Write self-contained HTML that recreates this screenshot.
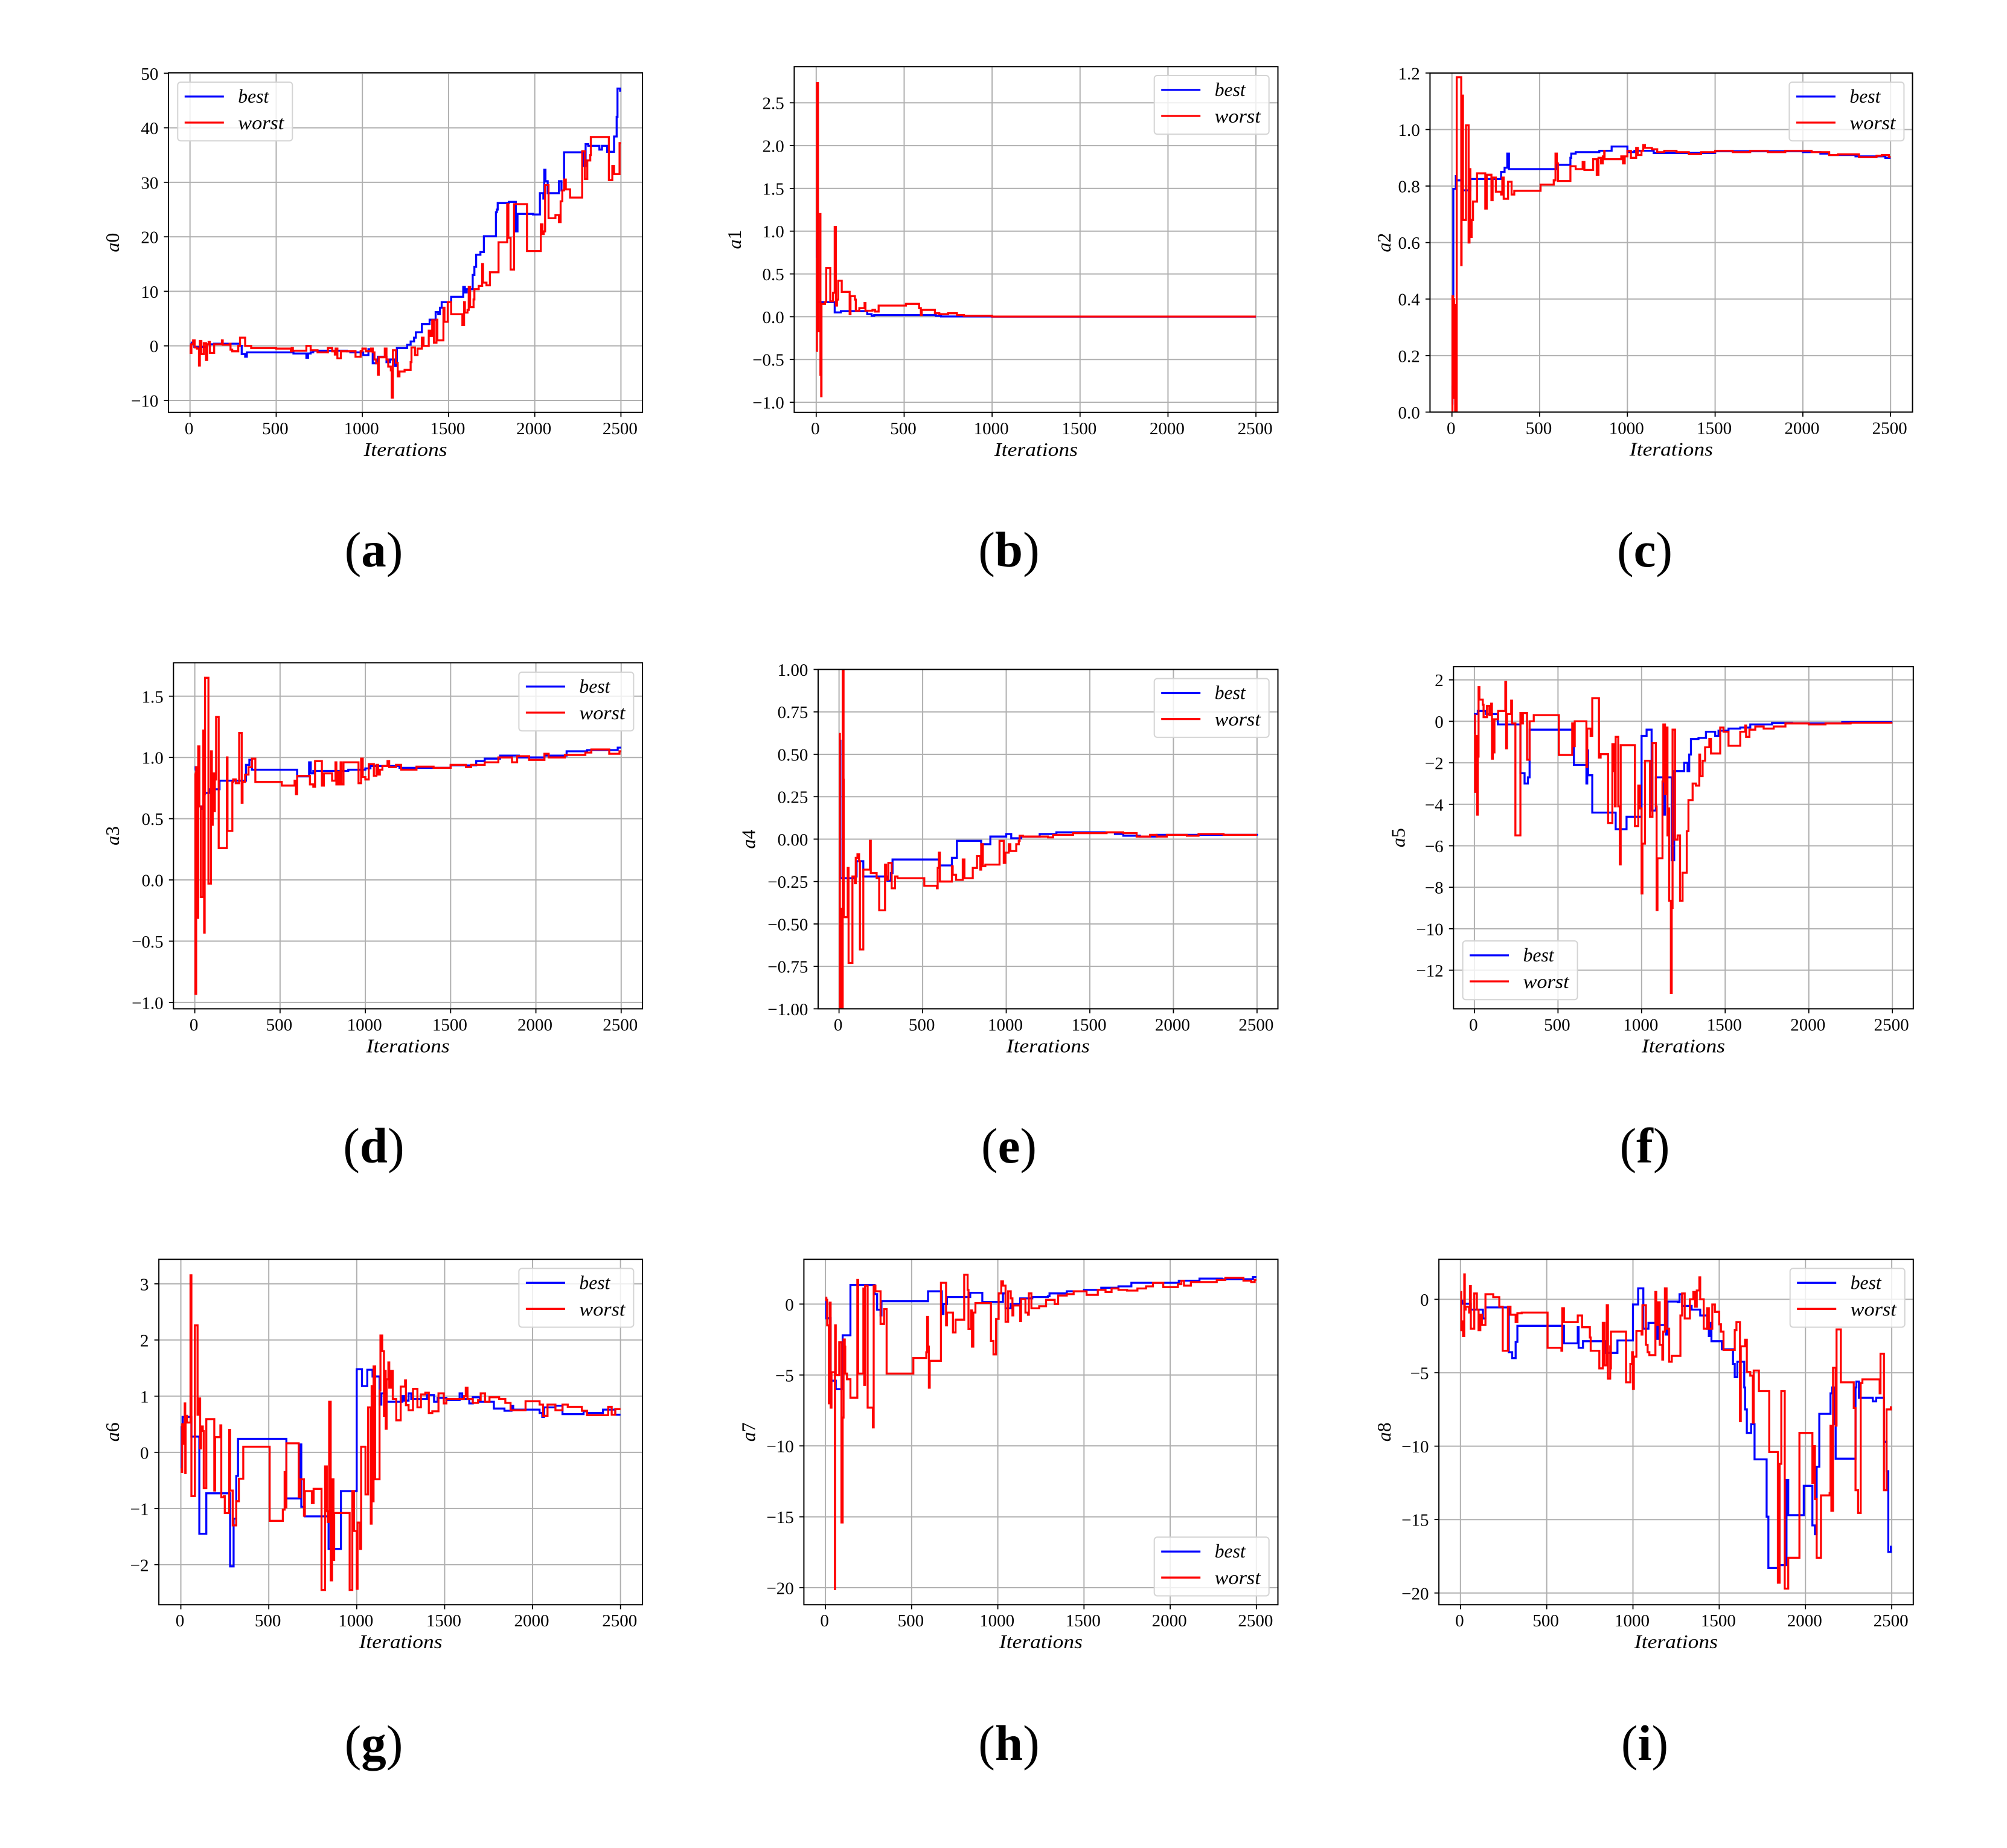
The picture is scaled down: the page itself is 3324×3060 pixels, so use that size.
<!DOCTYPE html>
<html lang="en">
<head>
<meta charset="utf-8">
<title>Parameter convergence: best and worst a0 to a8</title>
<style>
html,body{margin:0;padding:0;background:#fff;}
svg{display:block;}
text{font-family:"Liberation Serif",serif;fill:#000;}
</style>
</head>
<body>
<svg id="figure" xmlns="http://www.w3.org/2000/svg" width="3324" height="3060" viewBox="0 0 3324 3060"></svg>
<script>
const xTicks = [0,500,1000,1500,2000,2500];

const a0Ticks = [-10,0,10,20,30,40,50];
const a0BestIter = [0,10,25,100,140,290,300,320,330,600,675,685,700,715,910,930,1005,1035,1060,1090,1140,1160,1190,1200,1260,1280,1300,1310,1345,1390,1425,1440,1450,1460,1515,1585,1595,1605,1640,1650,1660,1685,1705,1775,1780,1785,1850,1890,1900,1990,2030,2050,2055,2062,2075,2140,2155,2170,2285,2295,2310,2375,2390,2420,2460,2475,2480,2495];
const a0BestVal = [0.3,0.6,-0.2,0.3,0.4,0,-1.5,-2,-1.2,-1.4,-2.2,-1.4,-1.2,-0.9,-1,-1.2,-1.7,-0.6,-3.2,-2,-3,-2.5,-3.7,-0.4,0.2,0.8,1.5,2.5,4,4.8,6.2,5.8,7,8,9,10.8,9.8,10.4,13,14.5,16.7,17.2,20.1,24.5,25,26.2,26.4,21,24.2,24.1,28,27,32.3,30.2,28,30.2,28.5,35.5,33,37,36.7,36,36.7,35.6,38.4,42,47.2,46.8];
const a0WorstIter = [0,4,8,18,27,40,52,57,66,80,93,100,108,115,140,185,190,230,235,245,280,290,320,355,500,585,590,597,675,700,740,800,825,840,845,855,875,960,990,1000,1020,1050,1060,1070,1080,1090,1095,1130,1140,1150,1165,1170,1177,1195,1205,1215,1245,1280,1285,1305,1320,1345,1355,1385,1395,1405,1415,1430,1435,1470,1476,1495,1515,1580,1590,1595,1610,1617,1625,1645,1650,1675,1695,1700,1720,1740,1790,1840,1847,1860,1880,1955,2035,2045,2052,2060,2080,2120,2140,2150,2160,2170,2180,2205,2275,2290,2305,2322,2325,2430,2450,2460,2492];
const a0WorstVal = [0.2,-1.3,0.3,1,-0.3,-0.5,-3.6,0.9,-1.5,0.5,-2.6,0.3,0.7,-1.3,0.3,1,0.2,0.4,-0.7,-1,0,1.5,0,-0.4,-0.5,-1,-0.4,-0.9,0,-0.8,-1.2,-0.4,-1,-1.6,-0.5,-2.3,-1,-2,-1,-0.5,-1,-0.5,-1.2,-2.5,-3.2,-5.3,-2.1,-0.5,-2.5,-3.8,-4.5,-9.5,-0.8,-3.1,-5.6,-4.7,-4.4,-3,-0.3,-1.7,-0.5,1.5,0,2.8,1.8,4.7,0.6,4.8,1,7,4.4,8,5.8,3.8,8,6.1,6.6,10.8,7.1,8.5,10.4,11,15,11.6,11.1,13.5,19,26,19.8,14,26,17.4,22.3,20.5,21,29.5,23.4,24,22.7,26.5,28.5,30.5,28.7,27.2,35.7,30.6,34,35,38.3,30.4,33,31.5,37.2];

const a1Ticks = [-1,-0.5,0,0.5,1,1.5,2,2.5];
const a1BestIter = [0,3,8,100,105,140,290,315,330,600,680,710,1000];
const a1BestVal = [0.9,0.7,0.17,0.17,0.05,0.065,0.03,0.01,0.02,0.02,0.01,0.003,0.001];
const a1WorstIter = [0,4,10,22,24,28,30,50,57,80,95,105,112,118,125,145,190,195,220,225,245,275,280,320,335,355,510,585,595,600,675,700,750,800,840,1000];
const a1WorstVal = [-0.4,2.73,-0.17,1.2,-0.68,-0.93,0.15,0.17,0.57,0.18,0.28,1.05,0.13,0.2,0.42,0.29,0.03,0.24,0.2,0.07,0.1,0.16,0.07,0.08,0.06,0.13,0.15,0.1,0.02,0.08,0.04,0.03,0.04,0.02,0.01,0.002];

const a2Ticks = [0,0.2,0.4,0.6,0.8,1,1.2];
const a2BestIter = [0,3,5,8,22,25,55,105,280,300,315,325,600,675,680,705,840,910,1000,1040,1150,1300,1500,1800,2000,2100,2150,2300,2470];
const a2BestVal = [0.03,0.09,0.41,0.79,0.835,0.82,0.785,0.825,0.85,0.865,0.915,0.86,0.875,0.9,0.915,0.92,0.925,0.94,0.92,0.925,0.917,0.917,0.923,0.923,0.92,0.915,0.91,0.905,0.9];
const a2WorstIter = [0,3,6,9,12,15,18,21,24,27,53,55,58,63,80,95,100,105,112,120,143,190,198,225,232,250,280,287,295,320,340,355,505,580,590,598,605,675,705,745,755,805,825,835,850,860,868,870,965,975,985,1000,1020,1050,1060,1080,1090,1100,1140,1170,1210,1280,1350,1420,1500,1600,1700,1800,1900,2050,2150,2200,2320,2420,2450,2490];
const a2WorstVal = [0,0.41,0.05,0.4,0.1,0.38,0,0.35,0,1.185,0.52,1.12,1.12,0.68,1.015,0.6,0.86,0.62,0.68,0.745,0.845,0.72,0.84,0.75,0.83,0.78,0.77,0.83,0.755,0.815,0.77,0.783,0.805,0.82,0.915,0.88,0.818,0.87,0.86,0.885,0.857,0.895,0.84,0.9,0.88,0.905,0.925,0.895,0.905,0.88,0.905,0.925,0.9,0.935,0.91,0.925,0.945,0.935,0.93,0.92,0.925,0.92,0.913,0.92,0.925,0.92,0.925,0.92,0.925,0.92,0.91,0.912,0.902,0.907,0.91,0.903];

const a3Ticks = [-1,-0.5,0,0.5,1,1.5];
const a3BestIter = [0,5,15,45,55,85,145,300,320,335,600,670,680,695,900,1000,1030,1200,1500,1650,1700,1790,1900,2050,2060,2180,2300,2480];
const a3BestVal = [0.9,0.92,0.6,0.58,0.71,0.74,0.81,0.94,0.98,0.9,0.845,0.96,0.87,0.89,0.9,0.91,0.93,0.915,0.935,0.97,0.99,1.015,1,1.03,1.015,1.05,1.06,1.08];
const a3WorstIter = [0,4,8,18,20,27,35,50,55,58,60,80,95,100,105,115,118,125,140,188,192,220,225,240,260,275,280,295,315,335,355,510,585,593,600,675,695,705,745,757,805,825,830,840,850,855,860,872,960,975,985,1000,1020,1050,1065,1075,1085,1100,1130,1140,1180,1210,1300,1400,1500,1590,1620,1700,1780,1860,1890,1960,2050,2075,2170,2290,2325,2430,2490];
const a3WorstVal = [0.87,-0.93,0.92,-0.31,1.09,0.6,-0.14,1.22,-0.43,0.7,1.65,-0.03,1.05,0.45,0.87,0.56,0.82,1.33,0.26,1,0.4,0.8,0.82,0.79,1.2,0.63,0.8,0.86,0.92,0.99,0.8,0.77,0.81,0.7,0.85,0.78,0.76,0.97,0.77,0.87,0.81,0.96,0.78,0.88,0.78,0.96,0.78,0.96,0.79,0.99,0.84,0.82,0.945,0.85,0.94,0.86,0.9,0.93,0.97,0.92,0.94,0.9,0.925,0.915,0.94,0.92,0.94,0.96,1,0.96,1.01,0.98,1.03,1,1.02,1.04,1.065,1.03,1.05];

const a4Ticks = [-1,-0.75,-0.5,-0.25,0,0.25,0.5,0.75,1];
const a4BestIter = [0,8,100,105,145,290,310,320,600,675,705,850,905,1000,1030,1090,1200,1300,1500,1650,1700,1800,1900,2000,2500];
const a4BestVal = [0.58,-0.23,-0.22,-0.13,-0.22,-0.245,-0.2,-0.12,-0.155,-0.11,-0.01,-0.03,0.015,0.03,0.005,0.015,0.03,0.04,0.04,0.03,0.02,0.015,0.025,0.025,0.02];
const a4WorstIter = [0,5,12,16,22,27,28,52,57,80,95,100,110,120,125,145,185,190,225,240,275,282,295,315,335,350,510,585,590,597,603,675,680,700,740,750,800,825,845,850,860,875,960,985,995,1015,1025,1060,1075,1080,1100,1250,1280,1400,1500,1600,1700,1780,1860,1900,1960,2080,2150,2300,2500];
const a4WorstVal = [0.62,-1,-0.41,-1,1,0.35,-0.46,-0.17,-0.73,-0.22,-0.26,-0.11,-0.09,-0.13,-0.65,-0.18,-0.01,-0.2,-0.23,-0.42,-0.15,-0.24,-0.14,-0.29,-0.22,-0.23,-0.275,-0.29,-0.17,-0.08,-0.25,-0.16,-0.21,-0.24,-0.12,-0.23,-0.17,-0.1,-0.18,-0.03,-0.16,-0.15,-0.01,-0.14,-0.08,-0.03,-0.07,-0.03,-0.01,0.02,0.015,0.01,0.025,0.035,0.035,0.04,0.035,0.015,0.025,0.015,0.025,0.02,0.03,0.025,0.025];

const a5Ticks = [-12,-10,-8,-6,-4,-2,0,2];
const a5BestIter = [0,3,20,70,140,275,300,320,330,595,670,675,680,705,845,910,1000,1030,1060,1085,1130,1140,1180,1195,1255,1275,1285,1295,1340,1385,1440,1460,1520,1590,1650,1780,1900,2000,2200];
const a5BestVal = [-0.6,0.35,0.5,0.35,-0.15,-2.5,-3,-2.7,-0.4,-2.1,-3,-1.4,-2.6,-4.4,-5.2,-4.6,-0.7,-0.4,-4.3,-2.7,-4.5,-2.7,-6.7,-2.4,-2,-2.4,-1.6,-0.85,-0.8,-0.5,-0.7,-0.45,-0.35,-0.3,-0.15,-0.08,-0.1,-0.1,-0.03];
const a5WorstIter = [0,4,8,16,20,25,30,50,55,75,90,100,105,110,113,120,142,185,190,195,220,225,245,275,283,290,315,330,355,505,585,590,600,670,675,695,705,745,755,800,825,835,840,845,860,870,875,960,980,990,1000,1005,1020,1050,1065,1085,1090,1095,1125,1130,1140,1150,1155,1160,1165,1175,1180,1185,1200,1215,1230,1245,1270,1280,1305,1325,1345,1350,1365,1380,1405,1415,1470,1490,1520,1590,1620,1625,1645,1680,1730,1790,1860,2000,2100,2250];
const a5WorstVal = [0.3,-3.4,-0.7,-4.5,-1.7,1.65,1.05,0.8,0.2,0.75,0.3,0.85,-1.8,0.1,-1.5,0.1,0.5,1.9,-1.3,0.35,1,-0.1,-5.5,0.4,-0.1,0.4,-1.85,0,0.3,-1.62,-0.1,-1.2,0,-2.2,-0.35,-0.7,1.12,-1.75,-1.58,-4.9,-1.1,-2.4,-4.1,-0.75,-4.1,-6.9,-1.15,-5.05,-3.1,-4.2,-8.3,-5.9,-1.9,-4.6,-1.05,-4.1,-9.1,-6.6,-2.9,-0.15,-3.5,-0.3,-5.5,-4.2,-8.65,-13.1,-9,-0.4,-5.7,-5.5,-8.65,-7.3,-5.3,-3.8,-3,-3.1,-1.6,-2.65,-1.9,-1.25,-0.85,-1.55,-0.3,-0.5,-1.18,-0.5,-0.2,-0.75,-0.4,-0.25,-0.35,-0.25,-0.1,-0.15,-0.1,-0.07];

const a6Ticks = [-2,-1,0,1,2,3];
const a6BestIter = [0,5,10,60,105,145,280,300,315,325,600,680,685,705,840,910,1000,1030,1060,1090,1130,1140,1170,1260,1270,1295,1310,1400,1440,1460,1510,1585,1600,1640,1660,1700,1780,1840,1880,1890,2040,2055,2065,2130,2170,2290,2310,2400,2470];
const a6BestVal = [-0.3,0.45,0.63,0.28,-1.45,-0.73,-2.03,-1.18,-0.42,0.24,-0.82,0.14,-0.97,-1.14,-1.72,-0.69,1.48,1.18,1.47,1.35,0.85,1.05,0.9,1,0.92,1.05,0.95,1.02,0.9,0.97,0.93,1.05,0.95,0.87,0.98,0.9,0.78,0.74,0.83,0.76,0.7,0.63,0.8,0.83,0.68,0.73,0.7,0.76,0.67];
const a6WorstIter = [0,5,8,13,22,25,27,35,55,60,80,95,103,110,115,125,130,145,190,195,225,230,245,250,275,280,295,315,330,355,505,580,590,595,600,670,680,700,705,745,755,800,820,830,835,843,852,860,868,872,960,975,985,1000,1005,1020,1025,1050,1065,1080,1085,1092,1096,1105,1130,1135,1145,1155,1160,1165,1170,1180,1185,1195,1205,1225,1250,1275,1280,1295,1320,1345,1365,1390,1410,1430,1465,1495,1510,1610,1620,1630,1660,1690,1705,1730,1755,1810,1845,1875,1960,2040,2060,2085,2130,2170,2200,2280,2310,2430,2450,2470];
const a6WorstVal = [-0.3,-0.35,0.5,0.15,0.87,-0.37,0.65,0.53,3.15,-0.78,2.26,0.67,0.96,0.07,0.46,0.38,-0.64,0.59,-0.68,0.27,0.48,-0.8,-0.78,-1.08,0.4,-0.68,-1.3,-0.87,-0.47,0.1,-1.22,-1.02,-0.35,-0.98,0.16,-0.8,-0.48,-1.13,-0.69,-0.9,-0.65,-2.45,-0.25,-1.05,-1.24,0.9,-2.28,-0.48,-1.92,-1.08,-2.45,-0.69,-1.4,-2.43,-1.25,-1.72,0.1,-0.75,0.8,-1.27,1.18,-0.87,1.53,-0.48,1.1,2.08,1.8,0.65,1.45,0.42,1.3,1.6,1.15,1.45,0.95,0.57,1.17,1.28,0.84,0.75,1.13,0.8,1.03,1.06,0.7,0.73,1.05,0.87,0.95,1,1.15,0.95,0.88,0.93,1.05,0.9,0.98,0.95,0.88,0.75,0.91,0.85,0.65,0.85,0.75,0.85,0.81,0.74,0.66,0.81,0.67,0.77];

const a7Ticks = [-20,-15,-10,-5,0];
const a7BestIter = [0,5,30,60,100,145,285,300,320,325,595,675,685,705,840,910,1030,1045,1075,1130,1200,1290,1300,1400,1500,1600,1700,1775,1900,2050,2170,2300,2480];
const a7BestVal = [0.4,-1,-5.4,-6,-2.2,1.35,0.7,-0.4,-0.8,0.2,0.9,-0.7,0,0.5,0.8,0.15,0.75,-0.3,0,0.4,0.5,0.55,0.75,0.9,1,1.15,1.25,1.5,1.5,1.65,1.8,1.75,1.9];
const a7WorstIter = [0,5,10,20,25,30,35,55,56,60,80,93,100,105,112,115,125,145,185,190,220,225,230,245,275,280,290,320,340,355,510,585,590,595,600,605,670,700,705,740,755,805,825,830,845,850,858,870,960,975,990,1005,1020,1030,1045,1060,1075,1085,1090,1130,1135,1160,1175,1180,1195,1240,1280,1330,1350,1400,1440,1515,1580,1625,1660,1700,1750,1810,1860,1900,1960,2045,2065,2080,2120,2200,2270,2320,2425,2470,2490];
const a7WorstVal = [0.45,0.3,-1.5,-7,0.1,-7.3,-4.8,-20.1,-1.5,-5,-2.7,-15.4,-8,-2.5,-3,-4.9,-5.3,-6.6,1.7,-4.9,1.1,-5.7,1.3,-7.3,-8.7,1.3,0.9,-1.4,-0.35,-4.9,-3.8,-3.4,-0.9,-3,-5.9,-4,1.5,-1.5,-0.6,-2,-1.1,2.07,1,-1.75,-0.45,-3,-0.6,0.08,-2.6,-3.55,-1.05,0.75,1.6,1.3,-1.25,0.9,0.4,-0.8,-0.1,-1.2,0.35,-0.6,-0.75,0.75,-0.3,-0.15,0.3,0,0.6,0.7,0.9,0.65,1,0.85,1.1,1,0.95,1.1,1.25,1.5,1.2,1.4,1.65,1.3,1.55,1.55,1.7,1.85,1.65,1.55,1.7];

const a8Ticks = [-20,-15,-10,-5,0];
const a8BestIter = [0,10,60,130,145,280,300,320,330,600,680,685,710,840,910,1000,1030,1060,1090,1135,1145,1190,1200,1260,1270,1285,1340,1390,1430,1440,1445,1455,1515,1580,1590,1605,1645,1650,1660,1685,1705,1775,1785,1850,1890,1900,1990,2040,2055,2065,2080,2145,2155,2165,2175,2290,2295,2310,2390,2410,2455,2470,2480,2495];
const a8BestVal = [-0.1,-0.3,-0.7,-1.3,-0.55,-3.6,-4,-2.9,-1.8,-3,-1.9,-3.3,-2.85,-3.65,-2.8,-0.35,0.75,-2,-1.6,-2.7,-1.75,-2.4,-0.15,-0.2,0.35,-0.45,-0.7,-1.1,-2,-2.5,-1.6,-2.85,-3.4,-4.4,-5.3,-4.25,-6,-7.5,-9.1,-8.5,-10.9,-14.8,-18.3,-18.1,-12.3,-14.7,-12.7,-15.4,-16,-11.4,-7.8,-6.4,-6,-8.5,-10.85,-6,-5.6,-6.7,-6.95,-6.7,-9.7,-11.7,-17.2,-16.85];
const a8WorstIter = [0,5,10,15,22,25,30,50,55,60,80,95,105,115,125,145,190,225,245,275,290,320,330,355,505,585,590,600,680,705,750,755,805,825,835,848,855,868,870,872,960,985,995,1000,1005,1020,1050,1055,1075,1085,1095,1130,1135,1145,1155,1170,1175,1185,1195,1210,1225,1275,1285,1300,1330,1350,1360,1370,1385,1390,1410,1430,1440,1460,1475,1500,1510,1525,1590,1600,1620,1625,1650,1660,1680,1695,1700,1730,1790,1840,1850,1860,1880,1900,1965,2040,2050,2055,2065,2090,2140,2145,2150,2160,2175,2180,2205,2280,2290,2305,2320,2330,2430,2435,2455,2470,2495];
const a8WorstVal = [0.5,-2.1,-1.5,-2.5,1.7,-0.7,-0.5,-0.9,0.9,-2,0.4,-0.7,-2.1,-1.05,-1.75,0.35,0.15,-0.5,-3.5,-0.5,-1.05,-1.55,-0.95,-0.9,-3.3,-3.5,-0.6,-1.55,-1.1,-1.9,-2.6,-3.5,-4.7,-1.6,-4.5,-0.4,-5.4,-3.2,-4.7,-2.2,-5.65,-4.4,-3.6,-6.1,-3.9,-2.15,-2.4,-0.4,-3.1,-3.6,-3.8,0.5,-1.75,-0.2,-3.1,-4.1,-2.2,0.75,-2,-4.25,-3.85,-1.1,0.4,-1.3,0,0.5,-0.5,0.6,1.5,0,-2,-0.6,-2,-0.35,-0.85,-1.7,-2.2,-3.45,-2.1,-1.55,-8.3,-3.2,-2.75,-4.95,-5.2,-8.4,-4.85,-6.25,-10.4,-19.3,-11.2,-6.25,-19.7,-17.6,-9.1,-12.5,-10,-13.6,-17.6,-13.35,-13.2,-8.6,-14.4,-4.65,-8.6,-2.05,-5.65,-7.4,-13,-14.55,-5.7,-5.45,-6.4,-3.7,-13,-7.5,-7.35];

const panels = [
 {key:'a', digit:'0', cap:'a', bi:a0BestIter, bv:a0BestVal, wi:a0WorstIter, wv:a0WorstVal, ticks:a0Ticks, dec:0, box:[279,1064.1,120.4,682.8], yLim:[-12.2,50.1], labX:187.8, leg:[294.3,136], capX:619, capY:938},
 {key:'b', digit:'1', cap:'b', bi:a1BestIter, bv:a1BestVal, wi:a1WorstIter, wv:a1WorstVal, ticks:a1Ticks, dec:1, box:[1315.4,2116.5,110.3,682.8], yLim:[-1.118,2.923], labX:1217.9, leg:[1911.7,125], capX:1671, capY:938},
 {key:'c', digit:'2', cap:'c', bi:a2BestIter, bv:a2BestVal, wi:a2WorstIter, wv:a2WorstVal, ticks:a2Ticks, dec:1, box:[2368.4,3167.5,120.9,682.4], yLim:[0,1.2], labX:2293.8, leg:[2963.4,136], capX:2724, capY:938},
 {key:'d', digit:'3', cap:'d', bi:a3BestIter, bv:a3BestVal, wi:a3WorstIter, wv:a3WorstVal, ticks:a3Ticks, dec:1, box:[287.3,1064.1,1097.4,1670.4], yLim:[-1.052,1.773], labX:187.8, leg:[859.4,1113], capX:619, capY:1925},
 {key:'e', digit:'4', cap:'e', bi:a4BestIter, bv:a4BestVal, wi:a4WorstIter, wv:a4WorstVal, ticks:a4Ticks, dec:2, box:[1355,2116.5,1108.5,1670.4], yLim:[-1,1], labX:1241.5, leg:[1911.7,1123.6], capX:1671, capY:1925},
 {key:'f', digit:'5', cap:'f', bi:a5BestIter, bv:a5BestVal, wi:a5WorstIter, wv:a5WorstVal, ticks:a5Ticks, dec:0, box:[2407.3,3168.8,1103.9,1670.4], yLim:[-13.86,2.636], labX:2317.4, leg:[2422.6,1558], capX:2724, capY:1925},
 {key:'g', digit:'6', cap:'g', bi:a6BestIter, bv:a6BestVal, wi:a6WorstIter, wv:a6WorstVal, ticks:a6Ticks, dec:0, box:[263.1,1064.1,2085.2,2657.2], yLim:[-2.713,3.436], labX:187.8, leg:[859.4,2100.3], capX:619, capY:2914},
 {key:'h', digit:'7', cap:'h', bi:a7BestIter, bv:a7BestVal, wi:a7WorstIter, wv:a7WorstVal, ticks:a7Ticks, dec:0, box:[1331.4,2116.5,2085.2,2657.2], yLim:[-21.2,3.157], labX:1241.5, leg:[1911.7,2545.2], capX:1671, capY:2914},
 {key:'i', digit:'8', cap:'i', bi:a8BestIter, bv:a8BestVal, wi:a8WorstIter, wv:a8WorstVal, ticks:a8Ticks, dec:0, box:[2383.1,3168.8,2085.2,2657.2], yLim:[-20.8,2.727], labX:2293.8, leg:[2964.7,2100.3], capX:2724, capY:2914}
];

const NS = 'http://www.w3.org/2000/svg';
const root = document.getElementById('figure');
const X_LIM = [-125,2625];
const GRID = '#b0b0b0';

function mk(tag, attrs, parent, txt){
  const n = document.createElementNS(NS, tag);
  for (const k in attrs) n.setAttribute(k, attrs[k]);
  if (txt !== undefined) n.textContent = txt;
  parent.appendChild(n);
  return n;
}
function fmt(v, dec){
  const s = Math.abs(v).toFixed(dec);
  return (v < 0 ? '\u2212' : '') + s;
}
function stepPath(iters, vals, sx, sy){
  const n = Math.min(iters.length, vals.length);
  let d = 'M' + sx(iters[0]).toFixed(1) + ' ' + sy(vals[0]).toFixed(1);
  for (let i = 1; i < n; i++){
    d += 'H' + sx(iters[i]).toFixed(1) + 'V' + sy(vals[i]).toFixed(1);
  }
  d += 'H' + sx(2500).toFixed(1);
  return d;
}

panels.forEach(function(p){
  const L = p.box[0], R = p.box[1], T = p.box[2], B = p.box[3];
  const sx = function(v){ return L + (v - X_LIM[0]) * (R - L) / (X_LIM[1] - X_LIM[0]); };
  const sy = function(v){ return B - (v - p.yLim[0]) * (B - T) / (p.yLim[1] - p.yLim[0]); };

  const g = mk('g', {}, root);
  
  

  const defs = mk('defs', {}, g);
  const clip = mk('clipPath', {id:'clip-' + p.key}, defs);
  mk('rect', {x:L, y:T, width:R - L, height:B - T}, clip);

  xTicks.forEach(function(t){
    const x = sx(t);
    const gl = mk('line', {x1:x, x2:x, y1:T, y2:B, stroke:GRID, 'stroke-width':2}, g);
    
    
    const tk = mk('line', {x1:x, x2:x, y1:B, y2:B + 7.5, stroke:'#000', 'stroke-width':1.8}, g);
    
    
    const lb = mk('text', {x:x - 1.5, y:B + 36, 'text-anchor':'middle', 'font-size':29}, g, String(t));
    
    
  });

  p.ticks.forEach(function(t){
    const y = sy(t);
    const gl = mk('line', {x1:L, x2:R, y1:y, y2:y, stroke:GRID, 'stroke-width':2}, g);
    
    
    const tk = mk('line', {x1:L - 7.5, x2:L, y1:y, y2:y, stroke:'#000', 'stroke-width':1.8}, g);
    
    
    const lb = mk('text', {x:L - 16.6, y:y + 10.5, 'text-anchor':'end', 'font-size':29}, g, fmt(t, p.dec));
    
    
  });

  const lines = mk('g', {'clip-path':'url(#clip-' + p.key + ')', fill:'none', 'stroke-width':3.3, 'stroke-linejoin':'miter'}, g);
  const bestLine = mk('path', {d:stepPath(p.bi, p.bv, sx, sy), stroke:'#0000ff'}, lines);
  
  
  const worstLine = mk('path', {d:stepPath(p.wi, p.wv, sx, sy), stroke:'#ff0000'}, lines);
  
  

  const frame = mk('rect', {x:L, y:T, width:R - L, height:B - T, fill:'none', stroke:'#000', 'stroke-width':2}, g);
  
  

  const xl = mk('text', {x:(L + R) / 2, y:B + 72, 'text-anchor':'middle', 'font-size':32, 'font-style':'italic', textLength:138, lengthAdjust:'spacingAndGlyphs'}, g, 'Iterations');
  
  

  const cy = (T + B) / 2;
  const yl = mk('text', {transform:'translate(' + (p.labX + 9) + ' ' + cy + ') rotate(-90)', 'text-anchor':'middle', 'font-size':32}, g);
  
  
  mk('tspan', {'font-style':'italic'}, yl, 'a');
  mk('tspan', {}, yl, p.digit);

  const lx = p.leg[0], ly = p.leg[1];
  const lg = mk('g', {}, g);
  
  
  mk('rect', {x:lx, y:ly, width:190, height:97.3, rx:5, fill:'#fff', 'fill-opacity':0.8, stroke:'#d4d4d4', 'stroke-width':2}, lg);

  const e1 = mk('g', {}, lg);
  
  
  mk('line', {x1:lx + 11.5, x2:lx + 76.5, y1:ly + 23.9, y2:ly + 23.9, stroke:'#0000ff', 'stroke-width':3.3}, e1);
  mk('text', {x:lx + 100, y:ly + 34, 'font-size':32, 'font-style':'italic', textLength:51, lengthAdjust:'spacingAndGlyphs'}, e1, 'best');

  const e2 = mk('g', {}, lg);
  
  
  mk('line', {x1:lx + 11.5, x2:lx + 76.5, y1:ly + 67, y2:ly + 67, stroke:'#ff0000', 'stroke-width':3.3}, e2);
  mk('text', {x:lx + 100, y:ly + 78, 'font-size':32, 'font-style':'italic', textLength:76, lengthAdjust:'spacingAndGlyphs'}, e2, 'worst');

  const cap = mk('text', {x:p.capX, y:p.capY, 'text-anchor':'middle', 'font-size':83}, root);
  
  
  mk('tspan', {}, cap, '(');
  mk('tspan', {'font-weight':'bold'}, cap, p.cap);
  mk('tspan', {}, cap, ')');
});
</script>
</body>
</html>
